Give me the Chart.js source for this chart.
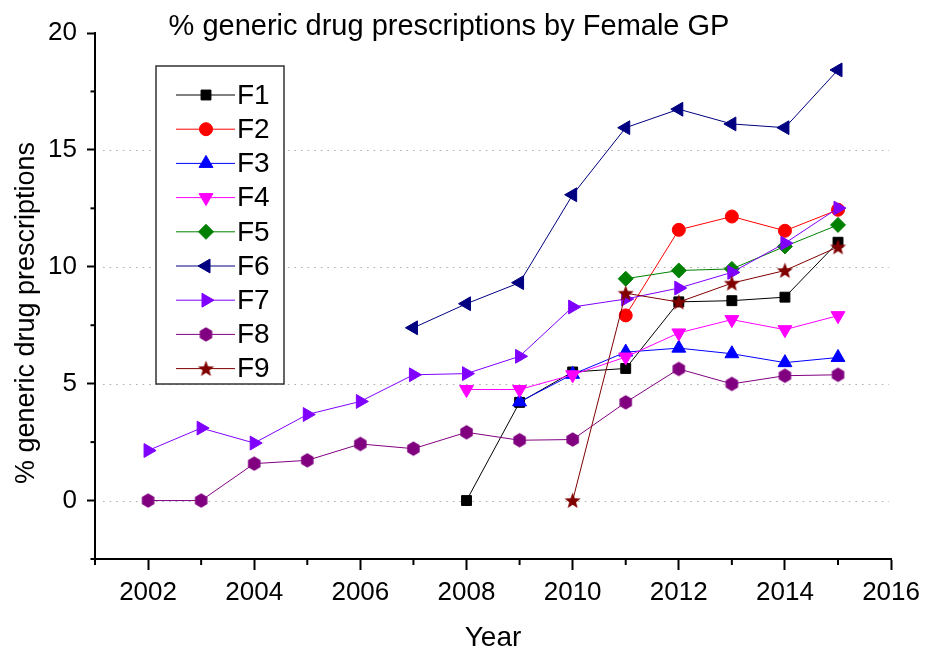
<!DOCTYPE html>
<html><head><meta charset="utf-8">
<script src="https://cdn.jsdelivr.net/npm/chart.js@4.4.1/dist/chart.umd.min.js"></script>
<style>html,body{margin:0;padding:0;background:#fff;}canvas{display:block;}</style>
</head><body>
<canvas id="c" width="927" height="653"></canvas>
<script>
// ---- data ----
const years = [2002,2003,2004,2005,2006,2007,2008,2009,2010,2011,2012,2013,2014,2015];
const F1 = [null,null,null,null,null,null,0,4.2,5.5,5.65,8.5,8.55,8.7,11.05];
const F2 = [null,null,null,null,null,null,null,null,null,7.92,11.58,12.15,11.54,12.44];
const F3 = [null,null,null,null,null,null,null,4.22,5.4,6.35,6.52,6.28,5.9,6.12];
const F4 = [null,null,null,null,null,null,4.75,4.75,5.38,6.14,7.17,7.74,7.31,7.91];
const F5 = [null,null,null,null,null,null,null,null,null,9.49,9.84,9.91,10.87,11.79];
const F6 = [null,null,null,null,null,7.39,8.42,9.32,13.08,15.95,16.74,16.11,15.95,18.42];
const F7 = [2.14,3.1,2.46,3.68,4.24,5.38,5.43,6.17,8.28,8.62,9.09,9.76,11.01,12.51];
const F8 = [0,0,1.58,1.72,2.42,2.22,2.92,2.58,2.61,4.2,5.63,4.99,5.34,5.38];
const F9 = [null,null,null,null,null,null,null,null,0,8.87,8.49,9.3,9.84,10.85];
const seriesNames = ['F1','F2','F3','F4','F5','F6','F7','F8','F9'];
const seriesValues = [F1,F2,F3,F4,F5,F6,F7,F8,F9];
const xTickLabels = ['2002','2004','2006','2008','2010','2012','2014','2016'];
const yTickLabels = ['0','5','10','15','20'];
const yGridValues = [0,5,10,15];
const chartTitle = '% generic drug prescriptions by Female GP';
const xTitle = 'Year';
const yTitle = '% generic drug prescriptions';

// ---- styles ----
const FONT = "'Liberation Sans', Arial, sans-serif";
const colors = ['#000000','#ff0000','#0000ff','#ff00ff','#008000','#000080','#8000ff','#800080','#800000'];

function makeHex(color, r){
  const s = Math.ceil(2*r+2), c = document.createElement('canvas');
  c.width = s; c.height = s;
  const g = c.getContext('2d'); g.fillStyle = color; g.beginPath();
  for (let k=0;k<6;k++){ const a = -Math.PI/2 + k*Math.PI/3; const px = s/2 + r*Math.cos(a), py = s/2 + r*Math.sin(a); k?g.lineTo(px,py):g.moveTo(px,py); }
  g.closePath(); g.fill(); return c;
}
function makeStar(color, ro, ri){
  const s = Math.ceil(2*ro+2), c = document.createElement('canvas');
  c.width = s; c.height = s;
  const g = c.getContext('2d'); g.fillStyle = color; g.beginPath();
  for (let k=0;k<10;k++){ const r = k%2?ri:ro; const a = -Math.PI/2 + k*Math.PI/5; const px = s/2 + r*Math.cos(a), py = s/2 + 0.6 + r*Math.sin(a); k?g.lineTo(px,py):g.moveTo(px,py); }
  g.closePath(); g.fill(); return c;
}
const pointStyles = ['rect','circle','triangle','triangle','rectRot','triangle','triangle', makeHex('#800080',7.2), makeStar('#800000',8.5,3.6)];
const rotations = [0,0,0,180,0,270,90,0,0];
const radii = [7,6.5,8,8,7.5,8,8,7,8];

const datasets = seriesNames.map((name,i)=>({
  label: name,
  data: years.map((yr,k)=>({x:yr, y:seriesValues[i][k]})).filter(p=>p.y!==null),
  borderColor: colors[i], backgroundColor: colors[i],
  pointBackgroundColor: colors[i], pointBorderColor: colors[i],
  borderWidth: 1, pointBorderWidth: 1,
  pointStyle: pointStyles[i], pointRotation: rotations[i], pointRadius: radii[i],
  tension: 0, order: 9 - i
}));

// ---- plugins ----
const extras = {
  id: 'extras',
  beforeDatasetsDraw(chart){
    const ctx = chart.ctx, ys = chart.scales.y, a = chart.chartArea;
    ctx.save();
    ctx.strokeStyle = '#b0b0b0'; ctx.lineWidth = 1.2; ctx.setLineDash([1.6, 5]);
    yGridValues.forEach(v=>{ const py = Math.round(ys.getPixelForValue(v)) + 0.5; ctx.beginPath(); ctx.moveTo(a.left + 8, py); ctx.lineTo(a.right - 2, py); ctx.stroke(); });
    ctx.restore();
  },
  afterDraw(chart){
    const ctx = chart.ctx, xs = chart.scales.x, ys = chart.scales.y, a = chart.chartArea;
    ctx.save();
    // minor ticks
    ctx.strokeStyle = '#000'; ctx.lineWidth = 2;
    xs.ticks.forEach(t=>{ if (!xTickLabels.includes(String(t.value))) { const px = xs.getPixelForValue(t.value); ctx.beginPath(); ctx.moveTo(px, a.bottom); ctx.lineTo(px, a.bottom+6); ctx.stroke(); } });
    ys.ticks.forEach(t=>{ if (!yTickLabels.includes(String(t.value))) { const py = ys.getPixelForValue(t.value); ctx.beginPath(); ctx.moveTo(a.left-4.5, py); ctx.lineTo(a.left, py); ctx.stroke(); } });
    // titles
    ctx.fillStyle = '#000';
    ctx.font = '29px ' + FONT; ctx.textAlign = 'center'; ctx.textBaseline = 'alphabetic';
    ctx.fillText(chartTitle, 449, 35);
    ctx.font = '28px ' + FONT;
    ctx.fillText(xTitle, (a.left+a.right)/2, 646);
    ctx.save(); ctx.translate(27, 313); ctx.rotate(-Math.PI/2);
    ctx.font = '27px ' + FONT; ctx.textBaseline = 'middle';
    ctx.fillText(yTitle, 0, 0); ctx.restore();
    // legend
    ctx.fillStyle = '#fff'; ctx.fillRect(156, 66, 128, 318);
    ctx.strokeStyle = '#333'; ctx.lineWidth = 1.5; ctx.strokeRect(156, 66, 128, 318);
    chart.data.datasets.forEach((ds,i)=>{
      const y = 95 + i*34.2;
      ctx.strokeStyle = ds.borderColor; ctx.lineWidth = 1;
      ctx.beginPath(); ctx.moveTo(176, y); ctx.lineTo(235, y); ctx.stroke();
      ctx.fillStyle = ds.pointBackgroundColor; ctx.strokeStyle = ds.pointBorderColor;
      Chart.helpers.drawPoint(ctx, {pointStyle: ds.pointStyle, rotation: ds.pointRotation, radius: ds.pointRadius, borderWidth: 1}, 206, y);
      ctx.fillStyle = '#000'; ctx.font = '28px ' + FONT; ctx.textAlign = 'left'; ctx.textBaseline = 'middle';
      ctx.fillText(ds.label, 237, y + 1);
    });
    ctx.restore();
  }
};

new Chart(document.getElementById('c'), {
  type: 'line',
  data: { datasets },
  options: {
    responsive: false, devicePixelRatio: 1, animation: false,
    layout: { padding: { top: 33, right: 34, left: 0, bottom: 0 } },
    plugins: { legend: { display: false }, title: { display: false }, tooltip: { enabled: false } },
    scales: {
      x: {
        type: 'linear', min: 2001, max: 2016,
        afterFit: s => { s.height = 94; },
        ticks: { stepSize: 1, autoSkip: false, maxRotation: 0, padding: 7, color: '#000', font: { family: FONT, size: 26 },
          callback: v => xTickLabels.includes(String(v)) ? String(v) : '' },
        grid: { drawOnChartArea: false, tickLength: 11, tickWidth: 2,
          tickColor: c => (c.tick && xTickLabels.includes(String(c.tick.value))) ? '#000' : 'rgba(0,0,0,0)' },
        border: { color: '#000', width: 2 }
      },
      y: {
        min: -2.5, max: 20,
        afterFit: s => { s.width = 95; },
        ticks: { stepSize: 2.5, autoSkip: false, padding: 10, color: '#000', font: { family: FONT, size: 26 },
          callback: v => yTickLabels.includes(String(v)) ? String(v) : '' },
        grid: { drawOnChartArea: false, tickLength: 8, tickWidth: 2,
          tickColor: c => (c.tick && yTickLabels.includes(String(c.tick.value))) ? '#000' : 'rgba(0,0,0,0)' },
        border: { color: '#000', width: 2 }
      }
    }
  },
  plugins: [extras]
});
</script>
</body></html>
